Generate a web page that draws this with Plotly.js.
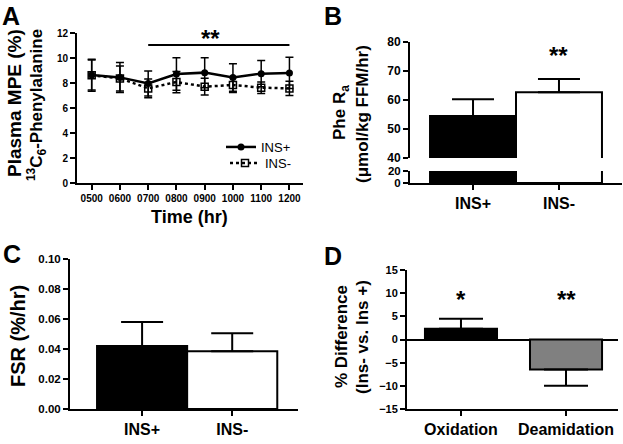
<!DOCTYPE html>
<html>
<head>
<meta charset="utf-8">
<script src="https://cdn.plot.ly/plotly-3.0.1.min.js"></script>
<style>html,body{margin:0;padding:0;background:#fff}#chart{width:623px;height:444px}</style>
</head>
<body>
<div id="chart"></div>
<script>
// ---------- DATA ----------
const timeLabels = ['0500','0600','0700','0800','0900','1000','1100','1200'];
const insPlusMPE = [8.64, 8.45, 7.97, 8.72, 8.83, 8.45, 8.75, 8.8];
const insPlusMPEErr = [1.2, 1.2, 1.0, 1.3, 1.2, 1.1, 1.05, 1.25];
const insMinusMPE = [8.62, 8.37, 7.57, 8.08, 7.71, 7.84, 7.63, 7.57];
const insMinusMPEErr = [1.28, 1.0, 0.75, 0.85, 0.67, 0.6, 0.46, 0.57];

const groupLabels = ['INS+','INS-'];
const pheRa = [54.5, 62.7];
const pheRaErr = [5.8, 4.5];

const fsr = [0.042, 0.0385];
const fsrErr = [0.016, 0.012];

const diffLabels = ['Oxidation','Deamidation'];
const pctDiff = [2.3, -6.5];
const pctDiffErrUp = [2.2, 0];
const pctDiffErrDown = [0, 3.5];

// ---------- HELPERS ----------
const W = 623, H = 444;
const px = x => x / W;
const py = y => 1 - y / H;
const FONT = 'Liberation Sans, Arial, Helvetica, sans-serif';
const bold = (size) => ({family: FONT, size: size, color: '#000', weight: 'bold'});

function axisBase(extra) {
  return Object.assign({
    showgrid: false, zeroline: false, showline: true, linecolor: '#000', linewidth: 2,
    ticks: 'outside', ticklen: 5, tickwidth: 2, tickcolor: '#000', fixedrange: true
  }, extra);
}
function vtitle(text, x, y, size) {
  return {text: text, textangle: -90, xref: 'paper', yref: 'paper', x: px(x), y: py(y),
          xanchor: 'center', yanchor: 'middle', showarrow: false, font: bold(size)};
}
function legendAt(yPix) {
  return {
    x: px(296), xanchor: 'right', y: py(yPix), yanchor: 'middle',
    bgcolor: 'rgba(0,0,0,0)', borderwidth: 0, tracegroupgap: 0,
    font: {family: FONT, size: 13, color: '#000'}, itemwidth: 30
  };
}

// ---------- TRACES ----------
const traces = [
  {
    x: timeLabels, y: insPlusMPE, name: 'INS+', type: 'scatter', mode: 'lines+markers',
    xaxis: 'x', yaxis: 'y', legend: 'legend',
    line: {color: '#000', width: 2.5},
    marker: {symbol: 'circle', size: 7, color: '#000'},
    error_y: {type: 'data', array: insPlusMPEErr, visible: true, color: '#000', thickness: 1.5, width: 4}
  },
  {
    x: timeLabels, y: insMinusMPE, name: 'INS-', type: 'scatter', mode: 'lines+markers',
    xaxis: 'x', yaxis: 'y', legend: 'legend2',
    line: {color: '#000', width: 2.5, dash: 'dot'},
    marker: {symbol: 'square-open', size: 7, color: '#000', line: {width: 1.5, color: '#000'}},
    error_y: {type: 'data', array: insMinusMPEErr, visible: true, color: '#000', thickness: 1.5, width: 4}
  },
  // Panel B upper segment
  {
    x: groupLabels, y: pheRa, type: 'bar', xaxis: 'x2', yaxis: 'y3', width: 1, showlegend: false,
    marker: {color: ['#000', '#fff'], line: {color: '#000', width: 2}},
    error_y: {type: 'data', array: pheRaErr, arrayminus: [0, 0], symmetric: false, visible: true,
              color: '#000', thickness: 2, width: 21}
  },
  // Panel B lower segment
  {
    x: groupLabels, y: pheRa, type: 'bar', xaxis: 'x2', yaxis: 'y2', width: 1, showlegend: false,
    marker: {color: ['#000', '#fff'], line: {color: '#000', width: 2}}
  },
  // Panel C
  {
    x: groupLabels, y: fsr, type: 'bar', xaxis: 'x3', yaxis: 'y4', width: 1, showlegend: false,
    marker: {color: ['#000', '#fff'], line: {color: '#000', width: 2}},
    error_y: {type: 'data', array: fsrErr, arrayminus: [0, 0], symmetric: false, visible: true,
              color: '#000', thickness: 2, width: 21}
  },
  // Panel D
  {
    x: diffLabels, y: pctDiff, type: 'bar', xaxis: 'x4', yaxis: 'y5', width: 0.686, showlegend: false,
    marker: {color: ['#000', '#808080'], line: {color: '#000', width: 2}},
    error_y: {type: 'data', array: pctDiffErrUp, arrayminus: pctDiffErrDown, symmetric: false, visible: true,
              color: '#000', thickness: 2, width: 22}
  }
];

// ---------- LAYOUT ----------
const layout = {
  width: W, height: H, margin: {l: 0, r: 0, t: 0, b: 0},
  paper_bgcolor: '#fff', plot_bgcolor: 'rgba(0,0,0,0)',
  font: {family: FONT, color: '#000'},
  showlegend: true,
  legend: legendAt(147),
  legend2: legendAt(163),
  // Panel A
  xaxis: axisBase({domain: [px(77), px(303)], anchor: 'y', type: 'category', range: [-0.52, 7.48],
                   tickfont: bold(10)}),
  yaxis: axisBase({domain: [py(183), py(33)], anchor: 'x', range: [0, 12], dtick: 2, tickfont: bold(10)}),
  // Panel B
  xaxis2: axisBase({domain: [px(410), px(622)], anchor: 'y2', type: 'category', range: [-0.733, 1.733],
                    tickfont: bold(16)}),
  yaxis2: axisBase({domain: [py(183), py(171)], anchor: 'x2', range: [0, 20], tickvals: [0, 20], tickfont: bold(11.5)}),
  yaxis3: axisBase({domain: [py(158), py(42)], anchor: 'x2', range: [40, 80], dtick: 10, tickfont: bold(12)}),
  // Panel C
  xaxis3: axisBase({domain: [px(70), px(298)], anchor: 'y4', type: 'category', range: [-0.8, 1.73],
                    tickfont: bold(16)}),
  yaxis4: axisBase({domain: [py(409), py(259)], anchor: 'x3', range: [0, 0.1], dtick: 0.02, tickformat: '.2f',
                    tickfont: bold(11.5)}),
  // Panel D
  xaxis4: axisBase({domain: [px(407), px(618)], anchor: 'y5', type: 'category', range: [-0.514, 1.495],
                    tickfont: bold(16)}),
  yaxis5: axisBase({domain: [py(409), py(270)], anchor: 'x4', range: [-15, 15], dtick: 5, tickfont: bold(11),
                    zeroline: true, zerolinecolor: '#000', zerolinewidth: 2}),
  shapes: [
    {type: 'line', xref: 'x', yref: 'y', x0: 2, x1: 7, y0: 11.05, y1: 11.05, line: {color: '#000', width: 2}}
  ],
  annotations: [
    // panel letters
    {text: 'A', xref: 'paper', yref: 'paper', x: px(0), y: py(0), xanchor: 'left', yanchor: 'top', showarrow: false, font: bold(25)},
    {text: 'B', xref: 'paper', yref: 'paper', x: px(322), y: py(0), xanchor: 'left', yanchor: 'top', showarrow: false, font: bold(25)},
    {text: 'C', xref: 'paper', yref: 'paper', x: px(1), y: py(238), xanchor: 'left', yanchor: 'top', showarrow: false, font: bold(25)},
    {text: 'D', xref: 'paper', yref: 'paper', x: px(322), y: py(240), xanchor: 'left', yanchor: 'top', showarrow: false, font: bold(25)},
    // axis titles
    vtitle('Plasma MPE (%)', 15, 103, 19),
    vtitle('<sup>13</sup>C<sub>6</sub>-Phenylalanine', 36, 105, 17),
    {text: 'Time (hr)', xref: 'paper', yref: 'paper', x: px(189), y: py(217), xanchor: 'center', yanchor: 'middle', showarrow: false, font: bold(18)},
    vtitle('Phe R<sub>a</sub>', 341, 113, 17),
    vtitle('(μmol/kg FFM/hr)', 362, 114, 17),
    vtitle('FSR (%/hr)', 18, 336, 20),
    vtitle('% Difference', 341, 337, 17),
    vtitle('(Ins- vs. Ins +)', 362, 337, 17),
    // significance marks
    {text: '**', xref: 'x', yref: 'y', x: 4.2, y: 11.6, showarrow: false, font: bold(24)},
    {text: '**', xref: 'x2', yref: 'y3', x: 1, y: 75.5, showarrow: false, font: bold(24)},
    {text: '*', xref: 'x4', yref: 'y5', x: 0, y: 8.7, showarrow: false, font: bold(24)},
    {text: '**', xref: 'x4', yref: 'y5', x: 1, y: 8.7, showarrow: false, font: bold(24)}
  ]
};

Plotly.newPlot('chart', traces, layout, {staticPlot: true, displayModeBar: false});
</script>
</body>
</html>
